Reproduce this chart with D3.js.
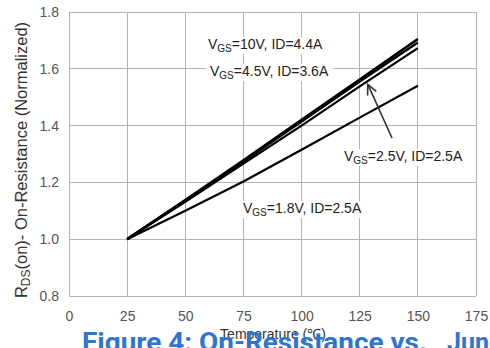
<!DOCTYPE html>
<html><head><meta charset="utf-8">
<script src="https://cdn.jsdelivr.net/npm/d3@7"></script>
<style>body{margin:0;background:#fff;}svg{display:block;font-family:"Liberation Sans",Arial,sans-serif;}</style>
</head><body>
<script>
const temps = [25, 50, 75, 100, 125, 150];
const vgs10 = [1.0, 1.138, 1.278, 1.42, 1.562, 1.705];
const vgs45 = [1.0, 1.136, 1.274, 1.414, 1.555, 1.693];
const vgs25 = [1.0, 1.132, 1.266, 1.40, 1.538, 1.673];
const vgs18 = [1.0, 1.10, 1.203, 1.315, 1.428, 1.54];
const xTicks = [0, 25, 50, 75, 100, 125, 150, 175];
const yTicks = [0.8, 1.0, 1.2, 1.4, 1.6, 1.8];

const W = 490, H = 348;
const svg = d3.select("body").append("svg").attr("width", W).attr("height", H);
const x = d3.scaleLinear().domain([0, 175]).range([69, 476]);
const y = d3.scaleLinear().domain([0.8, 1.8]).range([296, 12]);

// grid
const g = svg.append("g");
g.selectAll(".vx").data(xTicks).join("line")
  .attr("x1", d => x(d)).attr("x2", d => x(d)).attr("y1", y(1.8)).attr("y2", y(0.8))
  .attr("stroke", "#b4b4b4").attr("stroke-width", 1).attr("shape-rendering", "crispEdges");
g.selectAll(".hy").data(yTicks).join("line")
  .attr("x1", x(0)).attr("x2", x(175)).attr("y1", d => y(d)).attr("y2", d => y(d))
  .attr("stroke", "#b4b4b4").attr("stroke-width", 1).attr("shape-rendering", "crispEdges");

// axes tick labels
const yAxis = d3.axisLeft(y).tickValues(yTicks).tickFormat(d3.format(".1f")).tickSize(0).tickPadding(10);
const ya = svg.append("g").attr("transform", `translate(${x(0)},0)`).call(yAxis);
ya.select(".domain").remove();
ya.selectAll("text").attr("font-size", 14).attr("fill", "#555").attr("font-family", "Liberation Sans, Arial, sans-serif");

const xAxis = d3.axisBottom(x).tickValues(xTicks).tickSize(0).tickPadding(15);
const xa = svg.append("g").attr("transform", `translate(0,${y(0.8)})`).call(xAxis);
xa.select(".domain").remove();
xa.selectAll("text").attr("font-size", 14).attr("fill", "#555").attr("font-family", "Liberation Sans, Arial, sans-serif");

// lines
const line = d3.line().x((d, i) => x(temps[i])).y(d => y(d));
const series = [
  {v: vgs18, w: 2.2},
  {v: vgs25, w: 2.2},
  {v: vgs45, w: 2.4},
  {v: vgs10, w: 2.6}
];
svg.selectAll(".ser").data(series).join("path")
  .attr("d", d => line(d.v)).attr("fill", "none").attr("stroke", "#000")
  .attr("stroke-width", d => d.w).attr("stroke-linejoin", "round");

// labels with white background
function label(xp, yp, rest) {
  const t = svg.append("text").attr("x", xp).attr("y", yp).attr("font-size", 14).attr("fill", "#222");
  t.append("tspan").text("V");
  t.append("tspan").text("GS").attr("font-size", 10).attr("dy", 3);
  t.append("tspan").text(rest).attr("dy", -3);
  const bb = t.node().getBBox();
  svg.insert("rect", () => t.node()).attr("x", bb.x - 4).attr("y", bb.y + 1).attr("width", bb.width + 8).attr("height", bb.height - 1).attr("fill", "#fff");
}
label(208, 49, "=10V, ID=4.4A");
label(210, 76, "=4.5V, ID=3.6A");
label(344, 161, "=2.5V, ID=2.5A");
label(243, 213, "=1.8V, ID=2.5A");

// arrow
const ax0 = 392, ay0 = 138, ax1 = x(128.5), ay1 = y(1.545);
svg.append("line").attr("x1", ax0).attr("y1", ay0).attr("x2", ax1).attr("y2", ay1)
  .attr("stroke", "#333").attr("stroke-width", 1.6);
const ang = Math.atan2(ay0 - ay1, ax0 - ax1);
const hl = 11, ha = 0.45;
svg.append("path")
  .attr("d", `M${ax1 + hl*Math.cos(ang-ha)},${ay1 + hl*Math.sin(ang-ha)} L${ax1},${ay1} L${ax1 + hl*Math.cos(ang+ha)},${ay1 + hl*Math.sin(ang+ha)}`)
  .attr("fill", "none").attr("stroke", "#333").attr("stroke-width", 1.6);

// y title
const yt = svg.append("text").attr("transform", "translate(27,160) rotate(-90)")
  .attr("text-anchor", "middle").attr("font-size", 16.5).attr("fill", "#333");
yt.append("tspan").text("R");
yt.append("tspan").text("DS").attr("font-size", 12).attr("dy", 3);
yt.append("tspan").text("(on)- On-Resistance (Normalized)").attr("dy", -3);

// x title
svg.append("text").attr("x", 273).attr("y", 339).attr("text-anchor", "middle")
  .attr("font-size", 14).attr("fill", "#333").text("Temperature (\u2103)");

// figure caption (clipped by the bottom edge)
svg.append("text").attr("x", 82).attr("y", 351).attr("font-family", "Roboto, sans-serif")
  .attr("font-weight", "bold").attr("font-size", 25).attr("fill", "#2f74d0")
  .attr("textLength", 345).attr("lengthAdjust", "spacingAndGlyphs").text("Figure 4: On-Resistance vs.");
svg.append("text").attr("x", 447).attr("y", 351).attr("font-family", "Roboto, sans-serif")
  .attr("font-weight", "bold").attr("font-size", 25).attr("fill", "#2f74d0").text("Junction Temperature");
</script>
</body></html>
